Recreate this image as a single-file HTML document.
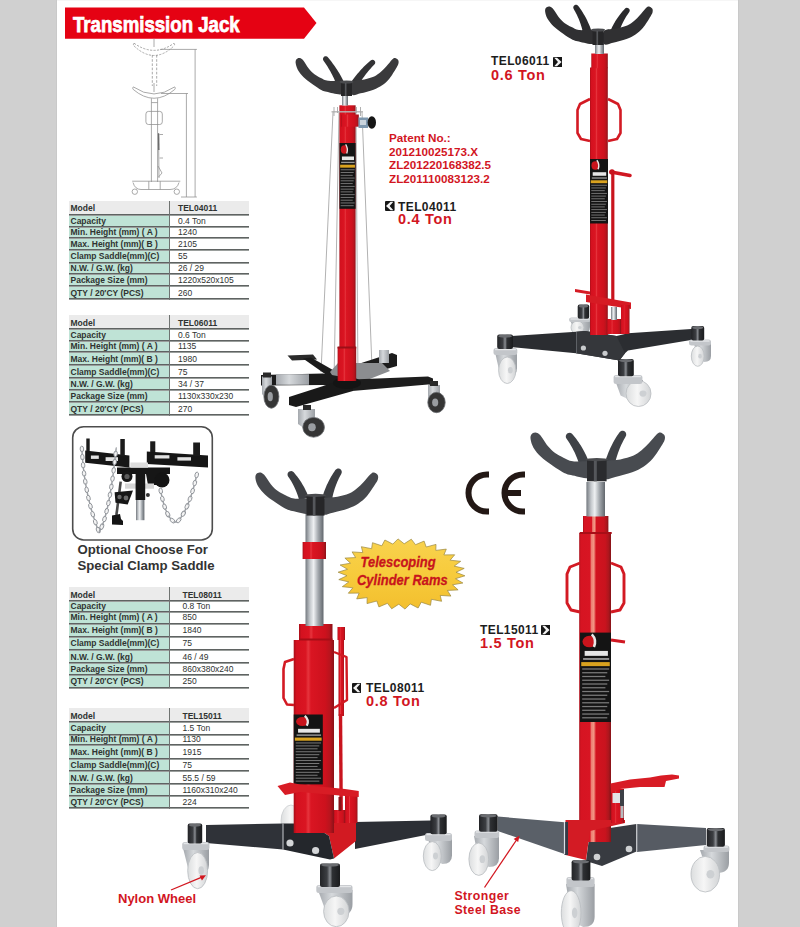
<!DOCTYPE html>
<html><head><meta charset="utf-8"><title>Transmission Jack</title>
<style>
*{margin:0;padding:0;box-sizing:border-box}
html,body{width:800px;height:927px;overflow:hidden}
body{position:relative;background:#d0d0d0;font-family:"Liberation Sans",sans-serif}
#page{position:absolute;left:57px;top:0;width:681px;height:927px;background:#fff}
.abs{position:absolute;white-space:nowrap}
.tbl{position:absolute;left:69px;width:180px}
.tbl .hd{position:absolute;left:0;width:180px;background:#ebebeb}
.tbl .lc{position:absolute;left:0;width:100px;background:#bfe3d6}
.tbl .ln{position:absolute;left:0;width:180px;height:1px;background:#5f6362;box-shadow:0 1px 0 #9a9e9c}
.tbl .vl{position:absolute;left:99.5px;width:1.4px;background:#6f7371}
.tbl .t{position:absolute;font-size:8.5px;line-height:10px;color:#2f3331;white-space:nowrap}
.tbl .b{font-weight:bold}
.lbl{position:absolute;font-weight:bold;white-space:nowrap}
.red{color:#d2161f}
</style></head><body>
<div id="page"></div>
<div class="abs" style="left:56px;top:0;width:1px;height:927px;background:#c9c9c9"></div>
<div class="abs" style="left:57px;top:0;width:681px;height:1px;background:#f6f6f6"></div>
<div class="abs" style="left:738px;top:0;width:1px;height:927px;background:#c9c9c9"></div>

<svg class="abs" style="left:0;top:0" width="800" height="927" viewBox="0 0 800 927">
<polygon points="65,7.5 304,7.5 316.5,23 304,38.7 65,38.7" fill="#e50213"/>
</svg>
<div class="abs" style="left:73px;top:10.6px;font-size:21.5px;font-weight:bold;color:#fff;-webkit-text-stroke:0.75px #fff;transform:scaleX(0.866);transform-origin:0 0;line-height:28px;letter-spacing:0px">Transmission Jack</div>
<svg class="abs" style="left:0;top:0" width="800" height="927" viewBox="0 0 800 927">
<defs>
<linearGradient id="gRed" x1="0" x2="1" y1="0" y2="0">
 <stop offset="0" stop-color="#a80e18"/><stop offset="0.07" stop-color="#d4111f"/>
 <stop offset="0.3" stop-color="#da1522"/><stop offset="0.36" stop-color="#e6343d"/><stop offset="0.43" stop-color="#da1522"/>
 <stop offset="0.78" stop-color="#cd111d"/><stop offset="0.9" stop-color="#b8141d"/><stop offset="1" stop-color="#8c1118"/>
</linearGradient>
<linearGradient id="gRed4" x1="0" x2="1" y1="0" y2="0">
 <stop offset="0" stop-color="#a80e18"/><stop offset="0.05" stop-color="#d61422"/>
 <stop offset="0.34" stop-color="#d81523"/><stop offset="0.38" stop-color="#ec7d72"/><stop offset="0.46" stop-color="#f29884"/><stop offset="0.5" stop-color="#e2494a"/><stop offset="0.53" stop-color="#d2131f"/>
 <stop offset="0.82" stop-color="#c9131e"/><stop offset="0.92" stop-color="#ae161d"/><stop offset="1" stop-color="#861318"/>
</linearGradient>
<linearGradient id="gChrome" x1="0" x2="1" y1="0" y2="0">
 <stop offset="0" stop-color="#74797f"/><stop offset="0.25" stop-color="#c4c8cc"/>
 <stop offset="0.45" stop-color="#eef0f2"/><stop offset="0.7" stop-color="#a4a9ae"/>
 <stop offset="1" stop-color="#62676d"/>
</linearGradient>
<linearGradient id="gCyl" x1="0" x2="1" y1="0" y2="0">
 <stop offset="0" stop-color="#222326"/><stop offset="0.35" stop-color="#3c3e42"/>
 <stop offset="0.5" stop-color="#8a8d92"/><stop offset="0.62" stop-color="#2e3033"/><stop offset="1" stop-color="#1a1b1d"/>
</linearGradient>
<linearGradient id="gWheel" x1="0" x2="1" y1="0" y2="0">
 <stop offset="0" stop-color="#dcdedf"/><stop offset="0.45" stop-color="#f6f6f6"/>
 <stop offset="1" stop-color="#d2d4d6"/>
</linearGradient>
<linearGradient id="gFork" x1="0" x2="1" y1="0" y2="0">
 <stop offset="0" stop-color="#a4a8ad"/><stop offset="0.4" stop-color="#d6d9dc"/>
 <stop offset="1" stop-color="#9a9ea3"/>
</linearGradient>
<linearGradient id="gStar" x1="0" x2="0" y1="0" y2="1">
 <stop offset="0" stop-color="#f8d24e"/><stop offset="0.5" stop-color="#f7cb3c"/><stop offset="1" stop-color="#f3bf2e"/>
</linearGradient>
</defs>
<g stroke="#8e8e8e" stroke-width="0.75" fill="none">
<path d="M134,43.2 Q154,57.5 174,43.2 M134,45.9 Q154,65 174,45.9 M134,43.2 Q132.8,44.6 134,45.9 M174,43.2 Q175.2,44.6 174,45.9" stroke-dasharray="2.2,1.3"/>
<path d="M154,38.5 L154,47"/>
<path d="M152.3,55 L152.3,86 M156.7,55 L156.7,86" stroke-dasharray="2.6,1.6"/>
<path d="M133.3,86.9 Q154,101 174.7,86.9 M133.3,89.5 Q154,107 174.7,89.5 M133.3,86.9 Q132,88.2 133.3,89.5 M174.7,86.9 Q176,88.2 174.7,89.5"/>
<path d="M154,83 L154,92"/>
<path d="M151.4,98.3 L151.4,182 M157.6,98.3 L157.6,182 M151.4,102.6 L157.6,102.6"/>
<rect x="145.9" y="111.4" width="16.4" height="13.1" rx="2.6"/>
<path d="M158.5,133 L159,178 M159.5,134.5 L163,134.5 M159.5,158 L163,158 M158,166 L162,173 L158.5,177"/>
<path d="M132.2,181.2 L180.3,181.2 M133,182.5 Q135,189.5 141,189.5 L170,189.5 Q177,189.5 179,182.5"/>
<path d="M148.8,181.2 L148.8,189.5 M160.2,181.2 L160.2,189.5"/>
<circle cx="134.8" cy="191.7" r="2.7"/><circle cx="176.8" cy="191.7" r="2.7"/>
<path d="M160.2,49.4 L196.9,49.4 M195.1,49.4 L195.1,197 M161,93.5 L188,93.5 M186.4,93.5 L186.4,197 M181,197 L196.9,197"/>
</g>
<path d="M158.6,133.5 L158.8,150" stroke="#6a6a6a" stroke-width="1.4"/>
<g stroke="#b2b2b2" stroke-width="1" fill="none">
<path d="M333,112 L321,372 M339,112 L334,381 M356,112 L358,381 M362,112 L372,368"/>
</g>
<polygon points="346.00,368.00 392.00,353.00 397.00,355.00 397.00,366.00 352.00,379.00" fill="#1c1c1c" />
<rect x="379.00" y="350.00" width="10.00" height="13.00" fill="url(#gFork)" />
<polygon points="287.50,355.50 313.00,354.50 317.00,359.50 292.00,360.50" fill="#2b2b2b" />
<polygon points="303.00,358.50 311.00,357.50 340.00,374.00 335.00,381.00" fill="#1b1b1b" />
<polygon points="330.00,372.00 338.00,363.00 382.00,363.00 390.00,371.00 362.00,382.00 336.00,381.00" fill="#8b8d90" />
<polygon points="261.00,375.00 323.00,373.50 343.00,377.00 343.00,388.00 323.00,385.00 261.00,385.50" fill="#1b1b1b" />
<rect x="276.00" y="374.20" width="33.00" height="10.60" fill="url(#gFork)" />
<polygon points="352.00,379.50 428.00,376.50 433.00,378.50 433.00,385.00 428.00,384.50 352.00,391.00" fill="#1d1d1d" />
<polygon points="289.00,397.00 345.00,379.00 353.00,385.00 353.00,391.00 296.00,407.00 289.00,405.00" fill="#191919" />
<ellipse cx="347" cy="383" rx="14" ry="6" fill="#141414"/>
<path d="M262,376.5 L272,376.5 L272,397 L267.0,400 L262,394 Z" fill="url(#gFork)"/>
<ellipse cx="271.4" cy="396.7" rx="7.5" ry="11.5" fill="#353535" stroke="#6a6c70" stroke-width="0.8"/>
<ellipse cx="270.27" cy="396.70" rx="2.62" ry="4.60" fill="#9a9da1"/>
<rect x="263.00" y="372.50" width="8.00" height="5.00" fill="#2a2a2a" />
<path d="M298,409 L315,409 L315,427 L306.5,430 L298,424 Z" fill="url(#gFork)"/>
<ellipse cx="313.6" cy="427.3" rx="10.8" ry="9.9" fill="#353535" stroke="#6a6c70" stroke-width="0.8"/>
<ellipse cx="311.98" cy="427.30" rx="3.78" ry="3.96" fill="#9a9da1"/>
<rect x="303.00" y="405.00" width="8.00" height="5.00" fill="#2a2a2a" />
<path d="M428,385 L440,385 L440,401 L434.0,404 L428,398 Z" fill="url(#gFork)"/>
<ellipse cx="436.5" cy="402.5" rx="8.7" ry="10.2" fill="#353535" stroke="#6a6c70" stroke-width="0.8"/>
<ellipse cx="435.19" cy="402.50" rx="3.04" ry="4.08" fill="#9a9da1"/>
<rect x="430.00" y="381.00" width="8.00" height="5.00" fill="#2a2a2a" />
<rect x="339.40" y="105.30" width="16.20" height="275.70" fill="url(#gRed)" />
<rect x="337.60" y="347.00" width="18.60" height="34.00" fill="url(#gRed)" />
<rect x="337.60" y="346.50" width="18.60" height="2.00" fill="#9c0f17" />
<rect x="341.00" y="114.50" width="17.80" height="12.20" fill="url(#gRed)" />
<path d="M331.5,111.8 L363,111.8" stroke="#b5b5b5" stroke-width="1.4"/>
<path d="M334,107 L334,116 M337.5,107 L337.5,113 M356.5,107 L356.5,113 M360.5,107 L360.5,116" stroke="#a8a8a8" stroke-width="0.9"/>
<rect x="358.50" y="117.50" width="9.50" height="10.50" fill="#7d97ae" />
<rect x="360.00" y="120.00" width="6.00" height="5.00" fill="#c9d3dc" />
<ellipse cx="371.8" cy="122.5" rx="4.2" ry="6.2" fill="#151515"/>
<rect x="339.50" y="143.00" width="16.10" height="65.80" fill="#141414" />
<ellipse cx="344.33" cy="149.58" rx="3.54" ry="4.28" fill="#c8141c"/>
<path d="M345.62,144.32 Q348.36,148.26 346.75,153.53" stroke="#e8e8e8" stroke-width="1.29" fill="none"/>
<rect x="341.92" y="156.49" width="12.07" height="3.62" fill="#e6e6e6" />
<rect x="341.11" y="161.75" width="13.52" height="1.32" fill="#9a9a9a" />
<rect x="340.14" y="164.71" width="14.81" height="2.96" fill="#d9a21f" />
<rect x="340.63" y="169.32" width="14.01" height="0.92" fill="#7a7a7a" />
<rect x="340.63" y="172.08" width="13.04" height="0.92" fill="#7a7a7a" />
<rect x="340.63" y="174.85" width="12.07" height="0.92" fill="#7a7a7a" />
<rect x="340.63" y="177.61" width="14.01" height="0.92" fill="#7a7a7a" />
<rect x="340.63" y="180.37" width="13.04" height="0.92" fill="#7a7a7a" />
<rect x="340.63" y="183.14" width="12.07" height="0.92" fill="#7a7a7a" />
<rect x="340.63" y="185.90" width="14.01" height="0.92" fill="#7a7a7a" />
<rect x="340.63" y="188.67" width="13.04" height="0.92" fill="#7a7a7a" />
<rect x="340.63" y="191.43" width="12.07" height="0.92" fill="#7a7a7a" />
<rect x="340.63" y="194.19" width="14.01" height="0.92" fill="#7a7a7a" />
<rect x="340.63" y="196.96" width="13.04" height="0.92" fill="#7a7a7a" />
<rect x="340.63" y="199.72" width="12.07" height="0.92" fill="#7a7a7a" />
<rect x="340.63" y="202.48" width="14.01" height="0.92" fill="#7a7a7a" />
<rect x="340.63" y="205.25" width="13.04" height="0.92" fill="#7a7a7a" />
<rect x="342.00" y="93.00" width="6.00" height="12.50" fill="url(#gChrome)" />
<path d="M337.32,86.56 L336.66,84.84 L335.98,83.14 L335.26,81.45 L334.53,79.78 L333.76,78.11 L332.97,76.46 L332.15,74.83 L331.30,73.20 L330.43,71.59 L329.53,70.00 L328.60,68.41 L327.64,66.84 L326.66,65.29 L325.64,63.74 L324.60,62.21 L323.53,60.69 L323.05,59.74 L322.97,58.67 L323.31,57.65 L324.01,56.83 L324.96,56.35 L326.03,56.27 L327.05,56.61 L327.87,57.31 L329.11,58.80 L330.34,60.31 L331.53,61.85 L332.70,63.40 L333.85,64.96 L334.96,66.55 L336.06,68.16 L337.12,69.78 L338.16,71.42 L339.17,73.09 L340.16,74.77 L341.12,76.46 L342.05,78.18 L342.95,79.92 L343.83,81.67 L344.68,83.44Z" fill="#333335"/>
<path d="M350.59,82.90 L351.67,81.33 L352.77,79.79 L353.90,78.26 L355.04,76.76 L356.22,75.28 L357.41,73.82 L358.63,72.38 L359.87,70.97 L361.14,69.58 L362.42,68.21 L363.73,66.87 L365.07,65.55 L366.43,64.25 L367.81,62.97 L369.21,61.71 L370.63,60.48 L371.55,59.92 L372.61,59.75 L373.65,60.00 L374.52,60.63 L375.08,61.55 L375.25,62.61 L375.00,63.65 L374.37,64.52 L373.12,65.80 L371.89,67.10 L370.70,68.42 L369.52,69.75 L368.38,71.10 L367.25,72.47 L366.16,73.86 L365.08,75.26 L364.04,76.68 L363.02,78.11 L362.02,79.57 L361.05,81.04 L360.10,82.53 L359.18,84.03 L358.28,85.56 L357.41,87.10Z" fill="#333335"/>
<path d="M342.41,81.84 C340.02,79.65 331.64,81.52 328.05,80.87 C324.46,80.22 323.14,79.05 320.87,77.95 C318.61,76.84 316.49,75.84 314.46,74.25 C312.43,72.66 310.63,70.79 308.72,68.41 C306.80,66.02 304.54,61.69 302.97,59.93 C301.41,58.18 300.45,57.97 299.34,57.89 C298.22,57.81 296.88,58.54 296.27,59.45 C295.67,60.36 295.43,61.59 295.70,63.34 C295.97,65.09 296.58,67.64 297.90,69.96 C299.23,72.28 301.49,75.08 303.64,77.27 C305.80,79.46 308.19,81.16 310.82,83.11 C313.46,85.06 316.81,87.49 319.44,88.95 C322.07,90.41 322.79,91.03 326.62,91.87 C330.45,92.71 339.78,95.68 342.41,94.01 C345.04,92.34 344.80,84.03 342.41,81.84Z" fill="#3a3a3c"/>
<path d="M351.98,81.84 C354.06,79.33 360.72,80.30 364.42,79.41 C368.13,78.52 371.48,77.70 374.19,76.49 C376.90,75.27 378.65,73.81 380.70,72.11 C382.74,70.40 384.53,68.37 386.44,66.26 C388.35,64.15 390.75,60.84 392.18,59.45 C393.62,58.05 394.07,57.81 395.05,57.89 C396.04,57.97 397.54,59.03 398.12,59.93 C398.69,60.84 398.77,62.04 398.50,63.34 C398.23,64.64 398.02,65.16 396.49,67.72 C394.96,70.29 391.70,75.81 389.31,78.73 C386.92,81.65 384.76,83.43 382.13,85.25 C379.50,87.07 377.11,88.28 373.52,89.63 C369.93,90.98 364.19,92.52 360.60,93.33 C357.01,94.14 353.42,96.41 351.98,94.50 C350.55,92.59 349.91,84.36 351.98,81.84Z" fill="#3a3a3c"/>
<rect x="341.00" y="82.00" width="11.00" height="14.00" fill="#262628" />
<ellipse cx="346.50" cy="82.00" rx="7.00" ry="1.6" fill="#4a4b4e"/>
<rect x="344.85" y="83.00" width="1.65" height="13.00" fill="#55575b" />
<path d="M570.00,320.00 L590.00,320.00 L590.00,327.00 Q590.00,334.00 582.00,334.00 L574.00,330.00 Z" fill="url(#gFork)"/>
<ellipse cx="577.50" cy="327.50" rx="6.50" ry="6.50" fill="url(#gWheel)" stroke="#b9bcc0" stroke-width="0.8"/>
<ellipse cx="579.84" cy="327.50" rx="1.82" ry="1.56" fill="#cdd0d3"/>
<rect x="569.00" y="317.50" width="22.00" height="4.50" rx="2.5" fill="#c3c6ca"/>
<rect x="570.50" y="318.30" width="19.00" height="1.40" fill="#e4e6e8" />
<rect x="577.70" y="304.40" width="11.50" height="14.40" rx="2" fill="url(#gCyl)"/>
<ellipse cx="583.45" cy="306.00" rx="4.75" ry="1.6" fill="#6b6d71"/>
<polygon points="505.00,336.50 576.30,331.80 585.00,331.00 616.50,336.00 628.00,333.20 691.30,328.90 697.00,330.00 697.00,339.00 628.00,350.40 625.00,353.30 619.40,360.50 576.00,353.30 505.00,346.50" fill="#2b2d31" />
<polygon points="576.30,331.80 585.00,331.00 616.50,336.00 625.00,353.30 619.40,360.50 576.00,353.30" fill="#35373b" />
<line x1="576.5" y1="332" x2="576.5" y2="353" stroke="#6a6d72" stroke-width="0.8"/>
<circle cx="583.4" cy="348" r="2.6" fill="#c9cbcd"/><circle cx="605" cy="353.3" r="2.6" fill="#c9cbcd"/>
<path d="M495.00,352.00 L517.00,352.00 L517.00,368.30 Q517.00,376.00 508.20,376.00 L499.40,371.60 Z" fill="url(#gFork)"/>
<ellipse cx="507.25" cy="370.25" rx="8.65" ry="13.25" fill="url(#gWheel)" stroke="#b9bcc0" stroke-width="0.8"/>
<ellipse cx="510.36" cy="370.25" rx="2.42" ry="3.18" fill="#cdd0d3"/>
<rect x="493.50" y="348.00" width="23.80" height="7.00" rx="2.5" fill="#c3c6ca"/>
<rect x="495.00" y="348.80" width="20.80" height="1.40" fill="#e4e6e8" />
<rect x="497.20" y="334.60" width="15.80" height="14.40" rx="2" fill="url(#gCyl)"/>
<ellipse cx="505.10" cy="336.20" rx="6.90" ry="1.6" fill="#6b6d71"/>
<path d="M694.00,343.00 L711.00,343.00 L711.00,356.05 Q711.00,362.00 704.20,362.00 L697.40,358.60 Z" fill="url(#gFork)"/>
<ellipse cx="697.75" cy="356.15" rx="6.45" ry="10.15" fill="url(#gWheel)" stroke="#b9bcc0" stroke-width="0.8"/>
<ellipse cx="700.07" cy="356.15" rx="1.81" ry="2.44" fill="#cdd0d3"/>
<rect x="689.00" y="339.50" width="22.00" height="6.00" rx="2.5" fill="#c3c6ca"/>
<rect x="690.50" y="340.30" width="19.00" height="1.40" fill="#e4e6e8" />
<rect x="691.30" y="326.00" width="12.90" height="14.40" rx="2" fill="url(#gCyl)"/>
<ellipse cx="697.75" cy="327.60" rx="5.45" ry="1.6" fill="#6b6d71"/>
<path d="M615.00,380.00 L643.00,380.00 L643.00,391.20 Q643.00,401.00 631.80,401.00 L620.60,395.40 Z" fill="url(#gFork)"/>
<ellipse cx="638.50" cy="393.55" rx="12.50" ry="12.95" fill="url(#gWheel)" stroke="#b9bcc0" stroke-width="0.8"/>
<ellipse cx="643.00" cy="393.55" rx="3.50" ry="3.11" fill="#cdd0d3"/>
<rect x="613.60" y="375.00" width="28.80" height="9.00" rx="2.5" fill="#c3c6ca"/>
<rect x="615.10" y="375.80" width="25.80" height="1.40" fill="#e4e6e8" />
<rect x="618.00" y="359.00" width="15.80" height="17.30" rx="2" fill="url(#gCyl)"/>
<ellipse cx="625.90" cy="360.60" rx="6.90" ry="1.6" fill="#6b6d71"/>
<rect x="590.00" y="67.50" width="17.80" height="267.50" fill="url(#gRed)" />
<rect x="591.30" y="53.50" width="16.50" height="14.70" fill="url(#gRed)" />
<path d="M590,99 L580,104 L577.5,110 L577.5,133 L581,139 L590,141 M608,99 L618,104 L620.5,110 L620.5,133 L617,139 L608,141" stroke="#d31a23" stroke-width="2.6" fill="none" stroke-linejoin="round"/>
<rect x="590.00" y="159.00" width="18.00" height="64.50" fill="#141414" />
<ellipse cx="595.40" cy="165.45" rx="3.96" ry="4.19" fill="#c8141c"/>
<path d="M596.84,160.29 Q599.90,164.16 598.10,169.32" stroke="#e8e8e8" stroke-width="1.44" fill="none"/>
<rect x="592.70" y="172.22" width="13.50" height="3.55" fill="#e6e6e6" />
<rect x="591.80" y="177.38" width="15.12" height="1.29" fill="#9a9a9a" />
<rect x="590.72" y="180.28" width="16.56" height="2.90" fill="#d9a21f" />
<rect x="591.26" y="184.80" width="15.66" height="0.90" fill="#7a7a7a" />
<rect x="591.26" y="187.51" width="14.58" height="0.90" fill="#7a7a7a" />
<rect x="591.26" y="190.22" width="13.50" height="0.90" fill="#7a7a7a" />
<rect x="591.26" y="192.93" width="15.66" height="0.90" fill="#7a7a7a" />
<rect x="591.26" y="195.64" width="14.58" height="0.90" fill="#7a7a7a" />
<rect x="591.26" y="198.35" width="13.50" height="0.90" fill="#7a7a7a" />
<rect x="591.26" y="201.05" width="15.66" height="0.90" fill="#7a7a7a" />
<rect x="591.26" y="203.76" width="14.58" height="0.90" fill="#7a7a7a" />
<rect x="591.26" y="206.47" width="13.50" height="0.90" fill="#7a7a7a" />
<rect x="591.26" y="209.18" width="15.66" height="0.90" fill="#7a7a7a" />
<rect x="591.26" y="211.89" width="14.58" height="0.90" fill="#7a7a7a" />
<rect x="591.26" y="214.60" width="13.50" height="0.90" fill="#7a7a7a" />
<rect x="591.26" y="217.31" width="15.66" height="0.90" fill="#7a7a7a" />
<rect x="591.26" y="220.02" width="14.58" height="0.90" fill="#7a7a7a" />
<path d="M612.8,172 L612.8,306" stroke="#c9141e" stroke-width="3.2"/>
<path d="M611,172 L630,175.5" stroke="#d01822" stroke-width="3.6" stroke-linecap="round"/>
<circle cx="612" cy="172" r="2.7" fill="#c8141d"/>
<polygon points="575.00,289.00 590.00,291.50 590.00,294.50 575.00,292.00" fill="#d51b24" />
<polygon points="586.00,294.50 631.00,302.50 631.00,309.00 586.00,302.00" fill="#d61b24" />
<rect x="621.00" y="305.00" width="8.50" height="29.00" fill="url(#gRed)" />
<rect x="607.00" y="319.00" width="14.00" height="15.00" fill="url(#gRed)" />
<rect x="611.00" y="307.00" width="6.00" height="13.00" fill="url(#gChrome)" />
<rect x="595.00" y="40.00" width="9.00" height="14.00" fill="url(#gChrome)" />
<path d="M582.92,32.19 L582.56,30.67 L582.17,29.17 L581.75,27.67 L581.30,26.18 L580.83,24.69 L580.33,23.22 L579.80,21.76 L579.24,20.31 L578.65,18.87 L578.03,17.43 L577.38,16.01 L576.71,14.60 L576.00,13.19 L575.27,11.79 L574.51,10.41 L573.72,9.03 L573.30,8.04 L573.30,6.97 L573.71,5.98 L574.47,5.22 L575.46,4.80 L576.53,4.80 L577.52,5.21 L578.28,5.97 L579.29,7.33 L580.27,8.71 L581.22,10.11 L582.15,11.52 L583.05,12.95 L583.92,14.40 L584.76,15.86 L585.58,17.34 L586.36,18.84 L587.12,20.36 L587.85,21.89 L588.55,23.44 L589.23,25.01 L589.87,26.59 L590.49,28.19 L591.08,29.81Z" fill="#2a2a2c"/>
<path d="M611.03,29.49 L611.69,28.05 L612.39,26.62 L613.11,25.21 L613.86,23.83 L614.63,22.46 L615.43,21.11 L616.26,19.78 L617.12,18.48 L618.00,17.19 L618.91,15.92 L619.84,14.67 L620.80,13.45 L621.78,12.24 L622.79,11.05 L623.83,9.88 L624.89,8.74 L625.73,8.06 L626.76,7.76 L627.82,7.88 L628.76,8.39 L629.44,9.23 L629.74,10.26 L629.62,11.32 L629.11,12.26 L628.27,13.44 L627.45,14.63 L626.67,15.83 L625.91,17.05 L625.18,18.27 L624.48,19.51 L623.80,20.75 L623.16,22.01 L622.54,23.28 L621.95,24.57 L621.39,25.86 L620.85,27.17 L620.34,28.48 L619.86,29.81 L619.40,31.15 L618.97,32.51Z" fill="#2a2a2c"/>
<path d="M594.00,31.00 C591.50,28.75 582.75,30.67 579.00,30.00 C575.25,29.33 573.87,28.13 571.50,27.00 C569.13,25.87 566.92,24.83 564.80,23.20 C562.68,21.57 560.80,19.65 558.80,17.20 C556.80,14.75 554.43,10.30 552.80,8.50 C551.17,6.70 550.17,6.48 549.00,6.40 C547.83,6.32 546.43,7.07 545.80,8.00 C545.17,8.93 544.92,10.20 545.20,12.00 C545.48,13.80 546.12,16.42 547.50,18.80 C548.88,21.18 551.25,24.05 553.50,26.30 C555.75,28.55 558.25,30.30 561.00,32.30 C563.75,34.30 567.25,36.80 570.00,38.30 C572.75,39.80 573.50,40.43 577.50,41.30 C581.50,42.17 591.25,45.22 594.00,43.50 C596.75,41.78 596.50,33.25 594.00,31.00Z" fill="#303032"/>
<path d="M604.00,31.00 C606.17,28.42 613.13,29.42 617.00,28.50 C620.87,27.58 624.37,26.75 627.20,25.50 C630.03,24.25 631.87,22.75 634.00,21.00 C636.13,19.25 638.00,17.17 640.00,15.00 C642.00,12.83 644.50,9.43 646.00,8.00 C647.50,6.57 647.97,6.32 649.00,6.40 C650.03,6.48 651.60,7.57 652.20,8.50 C652.80,9.43 652.88,10.67 652.60,12.00 C652.32,13.33 652.10,13.87 650.50,16.50 C648.90,19.13 645.50,24.80 643.00,27.80 C640.50,30.80 638.25,32.63 635.50,34.50 C632.75,36.37 630.25,37.62 626.50,39.00 C622.75,40.38 616.75,41.97 613.00,42.80 C609.25,43.63 605.50,45.97 604.00,44.00 C602.50,42.03 601.83,33.58 604.00,31.00Z" fill="#303032"/>
<rect x="592.50" y="30.00" width="11.20" height="15.00" fill="#262628" />
<ellipse cx="598.10" cy="30.00" rx="7.10" ry="1.6" fill="#4a4b4e"/>
<rect x="596.42" y="31.00" width="1.68" height="14.00" fill="#55575b" />
<ellipse cx="291" cy="821" rx="10" ry="16" fill="url(#gWheel)" stroke="#c6c9cc" stroke-width="0.7"/>
<polygon points="206.00,825.00 283.00,823.50 283.00,849.50 206.00,843.00" fill="#2f3238" />
<polygon points="355.00,822.00 431.00,820.50 431.00,834.00 355.00,849.00" fill="#2c2f35" />
<polygon points="298.00,812.00 356.00,812.00 356.00,841.00 334.00,858.50 329.00,836.00 310.00,823.50 298.00,823.50" fill="#d21a22" />
<polygon points="283.00,823.50 310.00,823.50 329.00,836.00 334.00,858.50 330.00,859.50 283.00,849.50" fill="#24272c" />
<line x1="283" y1="823.5" x2="283" y2="849.5" stroke="#c9ccd0" stroke-width="1"/>
<circle cx="290" cy="843" r="3.6" fill="#d4d6d8"/><circle cx="315.6" cy="850.5" r="3.6" fill="#d4d6d8"/>
<path d="M183.00,848.00 L209.00,848.00 L209.00,864.90 Q209.00,874.00 198.60,874.00 L188.20,868.80 Z" fill="url(#gFork)"/>
<ellipse cx="197.65" cy="870.60" rx="9.95" ry="18.10" fill="url(#gWheel)" stroke="#b9bcc0" stroke-width="0.8"/>
<ellipse cx="201.23" cy="870.60" rx="2.79" ry="4.34" fill="#cdd0d3"/>
<rect x="182.20" y="842.00" width="27.20" height="8.00" rx="2.5" fill="#c3c6ca"/>
<rect x="183.70" y="842.80" width="24.20" height="1.40" fill="#e4e6e8" />
<rect x="187.70" y="823.50" width="14.50" height="19.90" rx="2" fill="url(#gCyl)"/>
<ellipse cx="194.95" cy="825.10" rx="6.25" ry="1.6" fill="#6b6d71"/>
<path d="M428.00,838.00 L452.00,838.00 L452.00,855.60 Q452.00,864.00 442.40,864.00 L432.80,859.20 Z" fill="url(#gFork)"/>
<ellipse cx="432.30" cy="856.10" rx="9.00" ry="14.50" fill="url(#gWheel)" stroke="#b9bcc0" stroke-width="0.8"/>
<ellipse cx="435.54" cy="856.10" rx="2.52" ry="3.48" fill="#cdd0d3"/>
<rect x="425.00" y="833.00" width="27.00" height="8.00" rx="2.5" fill="#c3c6ca"/>
<rect x="426.50" y="833.80" width="24.00" height="1.40" fill="#e4e6e8" />
<rect x="430.40" y="814.40" width="16.30" height="19.90" rx="2" fill="url(#gCyl)"/>
<ellipse cx="438.55" cy="816.00" rx="7.15" ry="1.6" fill="#6b6d71"/>
<path d="M318.00,890.00 L352.50,890.00 L352.50,903.92 Q352.50,916.00 338.70,916.00 L324.90,909.10 Z" fill="url(#gFork)"/>
<ellipse cx="336.30" cy="911.35" rx="12.70" ry="15.35" fill="url(#gWheel)" stroke="#b9bcc0" stroke-width="0.8"/>
<ellipse cx="340.87" cy="911.35" rx="3.56" ry="3.68" fill="#cdd0d3"/>
<rect x="316.30" y="885.00" width="36.20" height="8.00" rx="2.5" fill="#c3c6ca"/>
<rect x="317.80" y="885.80" width="33.20" height="1.40" fill="#e4e6e8" />
<rect x="320.00" y="863.40" width="20.00" height="23.60" rx="2" fill="url(#gCyl)"/>
<ellipse cx="330.00" cy="865.00" rx="9.00" ry="1.6" fill="#6b6d71"/>
<rect x="293.70" y="640.00" width="40.30" height="193.00" fill="url(#gRed)" />
<rect x="299.00" y="624.00" width="33.50" height="16.00" fill="url(#gRed)" />
<rect x="299.00" y="638.50" width="33.50" height="2.00" fill="#a50e17" />
<rect x="337.50" y="627.00" width="7.50" height="13.00" fill="url(#gRed)" />
<rect x="338.50" y="640.00" width="5.50" height="76.00" fill="url(#gRed)" />
<path d="M334,652 L346.5,657 L347,700 L334,708" stroke="#d21a22" stroke-width="2.4" fill="none" stroke-linejoin="round"/>
<path d="M340.5,714 L341.2,812" stroke="#c9141e" stroke-width="3.4"/>
<path d="M294,659 L285,662 L283.5,669 L283.5,698 L287,704.5 L294,705" stroke="#d31a23" stroke-width="2.6" fill="none" stroke-linejoin="round"/>
<rect x="293.70" y="714.50" width="29.10" height="69.90" fill="#141414" />
<ellipse cx="302.43" cy="721.49" rx="6.40" ry="4.54" fill="#c8141c"/>
<path d="M304.76,715.90 Q309.70,720.09 306.80,725.68" stroke="#e8e8e8" stroke-width="2.33" fill="none"/>
<rect x="298.06" y="728.83" width="21.82" height="3.84" fill="#e6e6e6" />
<rect x="296.61" y="734.42" width="24.44" height="1.40" fill="#9a9a9a" />
<rect x="294.86" y="737.57" width="26.77" height="3.15" fill="#d9a21f" />
<rect x="295.74" y="742.46" width="25.32" height="0.98" fill="#7a7a7a" />
<rect x="295.74" y="745.40" width="23.57" height="0.98" fill="#7a7a7a" />
<rect x="295.74" y="748.33" width="21.83" height="0.98" fill="#7a7a7a" />
<rect x="295.74" y="751.27" width="25.32" height="0.98" fill="#7a7a7a" />
<rect x="295.74" y="754.20" width="23.57" height="0.98" fill="#7a7a7a" />
<rect x="295.74" y="757.14" width="21.83" height="0.98" fill="#7a7a7a" />
<rect x="295.74" y="760.07" width="25.32" height="0.98" fill="#7a7a7a" />
<rect x="295.74" y="763.01" width="23.57" height="0.98" fill="#7a7a7a" />
<rect x="295.74" y="765.95" width="21.83" height="0.98" fill="#7a7a7a" />
<rect x="295.74" y="768.88" width="25.32" height="0.98" fill="#7a7a7a" />
<rect x="295.74" y="771.82" width="23.57" height="0.98" fill="#7a7a7a" />
<rect x="295.74" y="774.75" width="21.83" height="0.98" fill="#7a7a7a" />
<rect x="295.74" y="777.69" width="25.32" height="0.98" fill="#7a7a7a" />
<rect x="295.74" y="780.63" width="23.57" height="0.98" fill="#7a7a7a" />
<rect x="345.00" y="792.00" width="12.50" height="31.00" fill="url(#gRed)" />
<rect x="334.00" y="810.00" width="11.00" height="13.00" fill="url(#gRed)" />
<rect x="338.50" y="797.00" width="3.00" height="14.00" fill="#8a1016" />
<polygon points="277.50,786.00 290.00,782.50 300.00,784.50 345.00,789.00 358.75,791.00 358.75,797.00 345.00,796.00 300.00,792.00 285.00,795.00" fill="#d81c25" />
<rect x="305.50" y="513.00" width="18.00" height="113.00" fill="url(#gChrome)" />
<rect x="302.60" y="542.00" width="23.40" height="17.00" fill="url(#gRed)" />
<path d="M299.24,500.52 L298.81,498.93 L298.34,497.35 L297.85,495.78 L297.31,494.23 L296.75,492.69 L296.15,491.16 L295.52,489.65 L294.85,488.16 L294.15,486.67 L293.41,485.20 L292.64,483.75 L291.83,482.30 L290.99,480.87 L290.11,479.46 L289.20,478.05 L288.25,476.66 L287.63,475.45 L287.52,474.08 L287.95,472.79 L288.84,471.75 L290.05,471.13 L291.42,471.02 L292.71,471.45 L293.75,472.34 L294.94,473.74 L296.10,475.16 L297.23,476.60 L298.32,478.07 L299.38,479.56 L300.41,481.07 L301.40,482.61 L302.36,484.17 L303.28,485.76 L304.17,487.36 L305.02,488.99 L305.84,490.64 L306.63,492.32 L307.37,494.02 L308.09,495.74 L308.76,497.48Z" fill="#3c3e42"/>
<path d="M322.13,497.87 L322.68,496.00 L323.27,494.14 L323.89,492.29 L324.56,490.47 L325.26,488.67 L325.99,486.89 L326.77,485.12 L327.58,483.38 L328.42,481.65 L329.30,479.95 L330.22,478.26 L331.18,476.59 L332.17,474.95 L333.19,473.32 L334.25,471.71 L335.34,470.12 L336.29,469.14 L337.54,468.58 L338.90,468.55 L340.18,469.04 L341.16,469.99 L341.72,471.24 L341.75,472.60 L341.26,473.88 L340.40,475.44 L339.58,477.01 L338.79,478.59 L338.04,480.18 L337.33,481.79 L336.66,483.40 L336.02,485.02 L335.42,486.66 L334.85,488.30 L334.32,489.96 L333.82,491.63 L333.36,493.30 L332.94,494.99 L332.55,496.69 L332.19,498.40 L331.87,500.13Z" fill="#3c3e42"/>
<path d="M311.16,499.63 C308.31,497.14 298.33,499.26 294.05,498.53 C289.77,497.79 288.20,496.46 285.50,495.21 C282.80,493.96 280.27,492.82 277.86,491.01 C275.44,489.21 273.29,487.09 271.01,484.38 C268.73,481.67 266.03,476.75 264.17,474.76 C262.31,472.77 261.16,472.53 259.83,472.44 C258.50,472.35 256.91,473.18 256.18,474.21 C255.46,475.24 255.18,476.64 255.50,478.63 C255.82,480.62 256.55,483.51 258.12,486.15 C259.70,488.78 262.40,491.95 264.97,494.44 C267.53,496.92 270.38,498.86 273.52,501.07 C276.66,503.28 280.65,506.04 283.79,507.70 C286.92,509.36 287.78,510.06 292.34,511.02 C296.90,511.97 308.02,515.34 311.16,513.45 C314.30,511.55 314.01,502.12 311.16,499.63Z" fill="#46484c"/>
<path d="M322.57,499.63 C325.04,496.78 332.98,497.88 337.39,496.87 C341.81,495.86 345.80,494.93 349.03,493.55 C352.26,492.17 354.35,490.51 356.78,488.58 C359.22,486.64 361.35,484.34 363.63,481.95 C365.91,479.55 368.76,475.79 370.47,474.21 C372.18,472.63 372.72,472.35 373.89,472.44 C375.07,472.53 376.86,473.73 377.54,474.76 C378.23,475.79 378.32,477.16 378.00,478.63 C377.68,480.11 377.43,480.69 375.60,483.61 C373.78,486.52 369.90,492.78 367.05,496.09 C364.20,499.41 361.63,501.44 358.50,503.50 C355.36,505.56 352.51,506.94 348.23,508.47 C343.95,510.00 337.11,511.75 332.83,512.67 C328.56,513.59 324.28,516.17 322.57,514.00 C320.86,511.83 320.10,502.49 322.57,499.63Z" fill="#46484c"/>
<rect x="306.50" y="495.40" width="18.00" height="20.20" fill="#262628" />
<ellipse cx="315.50" cy="495.40" rx="10.50" ry="1.6" fill="#4a4b4e"/>
<rect x="312.80" y="496.40" width="2.70" height="19.20" fill="#55575b" />
<polygon points="497.60,816.50 564.50,822.20 564.50,854.00 497.60,831.00" fill="#5a6068" />
<polygon points="637.00,824.00 706.00,828.00 706.00,845.00 637.00,852.00" fill="#565b63" />
<polygon points="590.00,831.00 636.50,824.00 636.50,851.50 602.00,866.00 586.00,861.00" fill="#383b41" />
<line x1="636.8" y1="824" x2="636.8" y2="851.5" stroke="#d0d3d8" stroke-width="1"/>
<circle cx="597" cy="857" r="3.3" fill="#cfd1d3"/><circle cx="629" cy="849" r="3.3" fill="#cfd1d3"/>
<path d="M474.00,836.00 L499.00,836.00 L499.00,858.25 Q499.00,867.00 489.00,867.00 L479.00,862.00 Z" fill="url(#gFork)"/>
<ellipse cx="478.80" cy="859.20" rx="9.90" ry="16.20" fill="url(#gWheel)" stroke="#b9bcc0" stroke-width="0.8"/>
<ellipse cx="482.36" cy="859.20" rx="2.77" ry="3.89" fill="#cdd0d3"/>
<rect x="474.50" y="830.50" width="24.70" height="7.50" rx="2.5" fill="#c3c6ca"/>
<rect x="476.00" y="831.30" width="21.70" height="1.40" fill="#e4e6e8" />
<rect x="479.00" y="814.30" width="18.60" height="17.40" rx="2" fill="url(#gCyl)"/>
<ellipse cx="488.30" cy="815.90" rx="8.30" ry="1.6" fill="#6b6d71"/>
<path d="M700.00,850.00 L729.00,850.00 L729.00,862.85 Q729.00,873.00 717.40,873.00 L705.80,867.20 Z" fill="url(#gFork)"/>
<ellipse cx="705.30" cy="874.20" rx="14.30" ry="17.80" fill="url(#gWheel)" stroke="#b9bcc0" stroke-width="0.8"/>
<ellipse cx="710.45" cy="874.20" rx="4.00" ry="4.27" fill="#cdd0d3"/>
<rect x="703.50" y="845.50" width="25.90" height="6.50" rx="2.5" fill="#c3c6ca"/>
<rect x="705.00" y="846.30" width="22.90" height="1.40" fill="#e4e6e8" />
<rect x="706.70" y="828.00" width="18.20" height="18.70" rx="2" fill="url(#gCyl)"/>
<ellipse cx="715.80" cy="829.60" rx="8.10" ry="1.6" fill="#6b6d71"/>
<path d="M566.00,884.00 L594.60,884.00 L594.60,916.99 Q594.60,927.00 583.16,927.00 L571.72,921.28 Z" fill="url(#gFork)"/>
<ellipse cx="571.15" cy="912.85" rx="9.85" ry="22.15" fill="url(#gWheel)" stroke="#b9bcc0" stroke-width="0.8"/>
<ellipse cx="574.70" cy="912.85" rx="2.76" ry="5.32" fill="#cdd0d3"/>
<rect x="566.40" y="877.00" width="28.20" height="10.00" rx="2.5" fill="#c3c6ca"/>
<rect x="567.90" y="877.80" width="25.20" height="1.40" fill="#e4e6e8" />
<rect x="571.60" y="860.20" width="18.80" height="20.20" rx="2" fill="url(#gCyl)"/>
<ellipse cx="581.00" cy="861.80" rx="8.40" ry="1.6" fill="#6b6d71"/>
<rect x="579.20" y="533.00" width="31.80" height="309.00" fill="url(#gRed4)" />
<polygon points="565.50,820.00 625.00,820.00 625.00,823.00 590.00,831.00 586.00,860.00 565.50,855.00" fill="#d31b24" />
<rect x="564.50" y="822.00" width="3.50" height="33.00" fill="#343a45" />
<line x1="564.5" y1="822" x2="564.5" y2="854" stroke="#dde0e6" stroke-width="1.2"/>
<rect x="583.00" y="516.00" width="25.40" height="17.00" fill="url(#gRed4)" />
<rect x="579.70" y="532.00" width="32.00" height="2.00" fill="#a80e17" />
<path d="M580,563 L570,567 L567,574 L567,603 L571,610 L580,612 M611,563 L621,567 L624,574 L624,603 L620,610 L611,612" stroke="#d31a23" stroke-width="2.9" fill="none" stroke-linejoin="round"/>
<rect x="580.00" y="632.60" width="31.00" height="89.40" fill="#141414" />
<ellipse cx="589.30" cy="641.54" rx="6.82" ry="5.81" fill="#c8141c"/>
<path d="M591.78,634.39 Q597.05,639.75 593.95,646.90" stroke="#e8e8e8" stroke-width="2.48" fill="none"/>
<rect x="584.65" y="650.93" width="23.25" height="4.92" fill="#e6e6e6" />
<rect x="583.10" y="658.08" width="26.04" height="1.79" fill="#9a9a9a" />
<rect x="581.24" y="662.10" width="28.52" height="4.02" fill="#d9a21f" />
<rect x="582.17" y="668.36" width="26.97" height="1.25" fill="#7a7a7a" />
<rect x="582.17" y="672.11" width="25.11" height="1.25" fill="#7a7a7a" />
<rect x="582.17" y="675.87" width="23.25" height="1.25" fill="#7a7a7a" />
<rect x="582.17" y="679.62" width="26.97" height="1.25" fill="#7a7a7a" />
<rect x="582.17" y="683.38" width="25.11" height="1.25" fill="#7a7a7a" />
<rect x="582.17" y="687.13" width="23.25" height="1.25" fill="#7a7a7a" />
<rect x="582.17" y="690.89" width="26.97" height="1.25" fill="#7a7a7a" />
<rect x="582.17" y="694.64" width="25.11" height="1.25" fill="#7a7a7a" />
<rect x="582.17" y="698.40" width="23.25" height="1.25" fill="#7a7a7a" />
<rect x="582.17" y="702.15" width="26.97" height="1.25" fill="#7a7a7a" />
<rect x="582.17" y="705.91" width="25.11" height="1.25" fill="#7a7a7a" />
<rect x="582.17" y="709.66" width="23.25" height="1.25" fill="#7a7a7a" />
<rect x="582.17" y="713.42" width="26.97" height="1.25" fill="#7a7a7a" />
<rect x="582.17" y="717.17" width="25.11" height="1.25" fill="#7a7a7a" />
<path d="M611,640 L625,642" stroke="#d01822" stroke-width="3.2"/>
<rect x="611.00" y="789.00" width="13.00" height="34.00" fill="url(#gRed)" />
<rect x="612.50" y="793.00" width="7.50" height="10.00" fill="#e2e4e6" />
<rect x="620.00" y="790.00" width="4.00" height="16.00" fill="#3d4046" />
<rect x="620.50" y="806.00" width="3.00" height="12.00" fill="#b7babd" />
<polygon points="610.50,783.50 630.00,779.50 650.00,777.50 661.00,775.50 672.00,774.50 679.00,775.50 679.00,778.50 666.00,781.00 664.50,787.00 640.00,787.00 620.00,789.00 611.00,793.00" fill="#d81c25" />
<rect x="586.40" y="482.00" width="18.60" height="34.50" fill="url(#gChrome)" />
<path d="M579.28,464.65 L578.74,462.92 L578.16,461.21 L577.56,459.51 L576.91,457.83 L576.24,456.16 L575.53,454.51 L574.79,452.87 L574.01,451.25 L573.20,449.64 L572.35,448.05 L571.47,446.47 L570.56,444.91 L569.61,443.37 L568.62,441.83 L567.60,440.32 L566.55,438.81 L565.89,437.51 L565.78,436.05 L566.23,434.66 L567.19,433.55 L568.49,432.89 L569.95,432.78 L571.34,433.23 L572.45,434.19 L573.72,435.72 L574.96,437.27 L576.17,438.84 L577.34,440.44 L578.48,442.06 L579.58,443.70 L580.65,445.36 L581.68,447.05 L582.69,448.76 L583.65,450.49 L584.58,452.25 L585.48,454.02 L586.34,455.82 L587.17,457.64 L587.96,459.48 L588.72,461.35Z" fill="#3f4247"/>
<path d="M605.16,461.74 L605.77,459.77 L606.42,457.82 L607.11,455.88 L607.84,453.97 L608.60,452.07 L609.39,450.19 L610.23,448.33 L611.10,446.49 L612.00,444.67 L612.95,442.87 L613.92,441.09 L614.94,439.32 L615.99,437.58 L617.07,435.86 L618.19,434.15 L619.35,432.47 L620.37,431.42 L621.71,430.83 L623.17,430.81 L624.53,431.35 L625.58,432.37 L626.17,433.71 L626.19,435.17 L625.65,436.53 L624.71,438.17 L623.80,439.83 L622.93,441.49 L622.09,443.17 L621.30,444.86 L620.53,446.57 L619.80,448.28 L619.11,450.01 L618.46,451.74 L617.83,453.49 L617.25,455.26 L616.70,457.03 L616.18,458.82 L615.70,460.62 L615.25,462.43 L614.84,464.26Z" fill="#3f4247"/>
<path d="M591.58,462.53 C588.45,459.78 577.52,462.12 572.83,461.31 C568.15,460.49 566.42,459.03 563.46,457.64 C560.51,456.26 557.74,455.00 555.09,453.00 C552.45,451.01 550.09,448.67 547.59,445.68 C545.09,442.68 542.14,437.25 540.10,435.05 C538.06,432.85 536.81,432.59 535.35,432.49 C533.89,432.39 532.14,433.30 531.35,434.44 C530.56,435.58 530.25,437.13 530.60,439.33 C530.95,441.52 531.75,444.72 533.47,447.63 C535.20,450.54 538.16,454.04 540.97,456.79 C543.78,459.53 546.91,461.67 550.34,464.11 C553.78,466.56 558.15,469.61 561.59,471.44 C565.02,473.27 565.96,474.04 570.96,475.10 C575.96,476.16 588.14,479.89 591.58,477.79 C595.01,475.69 594.70,465.27 591.58,462.53Z" fill="#484b50"/>
<path d="M604.07,462.53 C606.78,459.37 615.49,460.59 620.32,459.47 C625.15,458.35 629.52,457.34 633.06,455.81 C636.60,454.28 638.89,452.45 641.56,450.32 C644.22,448.18 646.56,445.64 649.06,442.99 C651.55,440.34 654.68,436.19 656.55,434.44 C658.43,432.69 659.01,432.39 660.30,432.49 C661.59,432.59 663.55,433.91 664.30,435.05 C665.05,436.19 665.15,437.70 664.80,439.33 C664.45,440.95 664.18,441.61 662.18,444.82 C660.18,448.04 655.93,454.96 652.80,458.62 C649.68,462.28 646.87,464.52 643.43,466.80 C640.00,469.08 636.87,470.61 632.19,472.29 C627.50,473.98 620.00,475.92 615.32,476.93 C610.63,477.95 605.95,480.80 604.07,478.40 C602.20,476.00 601.37,465.68 604.07,462.53Z" fill="#484b50"/>
<rect x="587.00" y="459.70" width="19.60" height="21.60" fill="#2a2b2e" />
<ellipse cx="596.80" cy="459.70" rx="11.30" ry="1.6" fill="#4a4b4e"/>
<rect x="593.86" y="460.70" width="2.94" height="20.60" fill="#55575b" />
<g stroke="#231815" stroke-width="6" fill="none">
<path d="M489,474.5 L487,474.5 A18.5,18.5 0 0 0 487,511.5 L489,511.5"/>
<path d="M525,474.5 L523,474.5 A18.5,18.5 0 0 0 523,511.5 L525,511.5"/>
<path d="M507,493 L521,493"/>
</g>
<polygon points="464.9,575.8 455.5,578.7 462.9,583.0 452.5,584.8 458.1,589.9 447.4,590.4 450.9,596.1 440.2,595.4 441.6,601.3 431.4,599.3 430.5,605.3 421.2,602.2 418.1,608.0 410.2,603.9 405.0,609.1 398.8,604.2 391.7,608.8 387.5,603.3 378.9,606.9 376.8,601.0 367.0,603.6 367.2,597.6 356.7,598.9 359.1,593.1 348.3,593.2 352.9,587.8 342.3,586.7 348.8,581.9 338.8,579.6 347.0,575.7 338.1,572.2 347.5,569.3 340.1,565.0 350.5,563.2 344.9,558.1 355.6,557.6 352.1,551.9 362.8,552.6 361.4,546.7 371.6,548.7 372.5,542.7 381.8,545.8 384.9,540.0 392.8,544.1 398.0,538.9 404.2,543.8 411.3,539.2 415.5,544.7 424.1,541.1 426.2,547.0 436.0,544.4 435.8,550.4 446.3,549.1 443.9,554.9 454.7,554.8 450.1,560.2 460.7,561.3 454.2,566.1 464.2,568.4 456.0,572.3" fill="url(#gStar)" stroke="#9a8640" stroke-width="0.7"/>
<rect x="72.7" y="426.7" width="139.6" height="113.3" rx="11" fill="#fff" stroke="#4d4d4d" stroke-width="1.6"/>
<rect x="136.00" y="499.00" width="8.40" height="21.20" fill="url(#gChrome)" />
<polygon points="85.20,450.40 129.40,455.50 129.40,467.40 85.20,462.80" fill="#161616" />
<rect x="90.90" y="455.50" width="7.90" height="3.40" fill="#e2e2e2" />
<rect x="105.60" y="457.20" width="12.40" height="3.80" fill="#e2e2e2" />
<polygon points="146.80,451.50 208.00,455.50 208.00,467.40 146.80,464.00" fill="#161616" />
<rect x="154.70" y="455.20" width="14.70" height="3.30" fill="#e2e2e2" />
<rect x="177.40" y="457.20" width="13.60" height="3.40" fill="#e2e2e2" />
<rect x="86.30" y="438.50" width="3.40" height="12.50" fill="#1b1b1b" />
<rect x="120.30" y="439.00" width="4.50" height="17.00" fill="#1b1b1b" />
<rect x="150.20" y="441.30" width="5.10" height="10.70" fill="#1b1b1b" />
<rect x="193.20" y="442.50" width="6.80" height="13.50" fill="#1b1b1b" />
<rect x="117.00" y="467.50" width="53.00" height="6.50" fill="#161616" />
<rect x="130.40" y="462.50" width="17.60" height="5.20" fill="#dcdcdc" />
<polygon points="146.00,474.00 162.00,474.00 160.00,485.00 148.00,485.00" fill="#161616" />
<circle cx="127" cy="476.5" r="5.5" fill="#181818"/><circle cx="127" cy="476.5" r="2.6" fill="#5c5c5c"/>
<circle cx="162" cy="480" r="7.5" fill="#141414"/>
<rect x="125.00" y="483.50" width="29.00" height="5.20" fill="#d6d6d6" />
<rect x="135.60" y="473.00" width="9.60" height="27.00" fill="#161616" />
<path d="M120.7,481.7 L116.4,515" stroke="#4a4a4a" stroke-width="2.6"/>
<polygon points="114.60,492.20 133.00,490.50 127.70,504.50 115.50,502.70" fill="#161616" />
<circle cx="119.5" cy="497" r="2.2" fill="#6a6a6a"/><circle cx="126" cy="498" r="2.4" fill="#6a6a6a"/>
<polygon points="112.00,515.50 120.00,514.00 121.00,519.00 123.00,521.00 123.00,525.00 112.00,524.50" fill="#141414" />
<circle cx="147.9" cy="494.9" r="2" fill="#333"/>
<ellipse cx="81.90" cy="449.01" rx="2.9" ry="1.75" transform="rotate(87.2 81.90 449.01)" fill="#f4f4f4" stroke="#8e9298" stroke-width="0.9"/>
<ellipse cx="82.12" cy="453.03" rx="2.7" ry="0.75" transform="rotate(86.4 82.12 453.03)" fill="#9a9ea3"/>
<ellipse cx="82.40" cy="457.08" rx="2.9" ry="1.75" transform="rotate(85.7 82.40 457.08)" fill="#f4f4f4" stroke="#8e9298" stroke-width="0.9"/>
<ellipse cx="82.73" cy="461.15" rx="2.7" ry="0.75" transform="rotate(84.9 82.73 461.15)" fill="#9a9ea3"/>
<ellipse cx="83.12" cy="465.23" rx="2.9" ry="1.75" transform="rotate(84.2 83.12 465.23)" fill="#f4f4f4" stroke="#8e9298" stroke-width="0.9"/>
<ellipse cx="83.57" cy="469.32" rx="2.7" ry="0.75" transform="rotate(83.4 83.57 469.32)" fill="#9a9ea3"/>
<ellipse cx="84.08" cy="473.43" rx="2.9" ry="1.75" transform="rotate(82.5 84.08 473.43)" fill="#f4f4f4" stroke="#8e9298" stroke-width="0.9"/>
<ellipse cx="84.65" cy="477.54" rx="2.7" ry="0.75" transform="rotate(81.7 84.65 477.54)" fill="#9a9ea3"/>
<ellipse cx="85.28" cy="481.65" rx="2.9" ry="1.75" transform="rotate(80.9 85.28 481.65)" fill="#f4f4f4" stroke="#8e9298" stroke-width="0.9"/>
<ellipse cx="85.97" cy="485.76" rx="2.7" ry="0.75" transform="rotate(80.0 85.97 485.76)" fill="#9a9ea3"/>
<ellipse cx="86.73" cy="489.87" rx="2.9" ry="1.75" transform="rotate(79.1 86.73 489.87)" fill="#f4f4f4" stroke="#8e9298" stroke-width="0.9"/>
<ellipse cx="87.56" cy="493.98" rx="2.7" ry="0.75" transform="rotate(78.1 87.56 493.98)" fill="#9a9ea3"/>
<ellipse cx="88.45" cy="498.07" rx="2.9" ry="1.75" transform="rotate(77.2 88.45 498.07)" fill="#f4f4f4" stroke="#8e9298" stroke-width="0.9"/>
<ellipse cx="89.42" cy="502.15" rx="2.7" ry="0.75" transform="rotate(76.2 89.42 502.15)" fill="#9a9ea3"/>
<ellipse cx="90.45" cy="506.21" rx="2.9" ry="1.75" transform="rotate(75.2 90.45 506.21)" fill="#f4f4f4" stroke="#8e9298" stroke-width="0.9"/>
<ellipse cx="91.56" cy="510.26" rx="2.7" ry="0.75" transform="rotate(74.2 91.56 510.26)" fill="#9a9ea3"/>
<ellipse cx="92.74" cy="514.28" rx="2.9" ry="1.75" transform="rotate(73.1 92.74 514.28)" fill="#f4f4f4" stroke="#8e9298" stroke-width="0.9"/>
<ellipse cx="94.00" cy="518.27" rx="2.7" ry="0.75" transform="rotate(72.0 94.00 518.27)" fill="#9a9ea3"/>
<ellipse cx="95.33" cy="522.23" rx="2.9" ry="1.75" transform="rotate(70.8 95.33 522.23)" fill="#f4f4f4" stroke="#8e9298" stroke-width="0.9"/>
<ellipse cx="96.74" cy="526.17" rx="2.7" ry="0.75" transform="rotate(69.7 96.74 526.17)" fill="#9a9ea3"/>
<ellipse cx="98.23" cy="530.06" rx="2.9" ry="1.75" transform="rotate(68.5 98.23 530.06)" fill="#f4f4f4" stroke="#8e9298" stroke-width="0.9"/>
<ellipse cx="100.01" cy="530.22" rx="2.7" ry="0.75" transform="rotate(-60.3 100.01 530.22)" fill="#9a9ea3"/>
<ellipse cx="101.81" cy="526.61" rx="2.9" ry="1.75" transform="rotate(-67.0 101.81 526.61)" fill="#f4f4f4" stroke="#8e9298" stroke-width="0.9"/>
<ellipse cx="103.25" cy="522.86" rx="2.7" ry="0.75" transform="rotate(-70.7 103.25 522.86)" fill="#9a9ea3"/>
<ellipse cx="104.52" cy="518.97" rx="2.9" ry="1.75" transform="rotate(-73.2 104.52 518.97)" fill="#f4f4f4" stroke="#8e9298" stroke-width="0.9"/>
<ellipse cx="105.64" cy="515.03" rx="2.7" ry="0.75" transform="rotate(-75.1 105.64 515.03)" fill="#9a9ea3"/>
<ellipse cx="106.64" cy="511.09" rx="2.9" ry="1.75" transform="rotate(-76.4 106.64 511.09)" fill="#f4f4f4" stroke="#8e9298" stroke-width="0.9"/>
<ellipse cx="107.57" cy="507.04" rx="2.7" ry="0.75" transform="rotate(-77.6 107.57 507.04)" fill="#9a9ea3"/>
<ellipse cx="108.44" cy="502.94" rx="2.9" ry="1.75" transform="rotate(-78.5 108.44 502.94)" fill="#f4f4f4" stroke="#8e9298" stroke-width="0.9"/>
<ellipse cx="109.25" cy="498.83" rx="2.7" ry="0.75" transform="rotate(-79.3 109.25 498.83)" fill="#9a9ea3"/>
<ellipse cx="109.99" cy="494.74" rx="2.9" ry="1.75" transform="rotate(-80.0 109.99 494.74)" fill="#f4f4f4" stroke="#8e9298" stroke-width="0.9"/>
<ellipse cx="110.68" cy="490.73" rx="2.7" ry="0.75" transform="rotate(-80.6 110.68 490.73)" fill="#9a9ea3"/>
<ellipse cx="111.34" cy="486.68" rx="2.9" ry="1.75" transform="rotate(-81.1 111.34 486.68)" fill="#f4f4f4" stroke="#8e9298" stroke-width="0.9"/>
<ellipse cx="111.96" cy="482.63" rx="2.7" ry="0.75" transform="rotate(-81.5 111.96 482.63)" fill="#9a9ea3"/>
<ellipse cx="112.54" cy="478.58" rx="2.9" ry="1.75" transform="rotate(-81.9 112.54 478.58)" fill="#f4f4f4" stroke="#8e9298" stroke-width="0.9"/>
<ellipse cx="113.12" cy="474.42" rx="2.7" ry="0.75" transform="rotate(-82.3 113.12 474.42)" fill="#9a9ea3"/>
<ellipse cx="113.66" cy="470.29" rx="2.9" ry="1.75" transform="rotate(-82.7 113.66 470.29)" fill="#f4f4f4" stroke="#8e9298" stroke-width="0.9"/>
<ellipse cx="114.17" cy="466.20" rx="2.7" ry="0.75" transform="rotate(-83.0 114.17 466.20)" fill="#9a9ea3"/>
<ellipse cx="114.67" cy="462.01" rx="2.9" ry="1.75" transform="rotate(-83.3 114.67 462.01)" fill="#f4f4f4" stroke="#8e9298" stroke-width="0.9"/>
<ellipse cx="115.15" cy="457.89" rx="2.7" ry="0.75" transform="rotate(-83.6 115.15 457.89)" fill="#9a9ea3"/>
<ellipse cx="115.59" cy="453.84" rx="2.9" ry="1.75" transform="rotate(-83.9 115.59 453.84)" fill="#f4f4f4" stroke="#8e9298" stroke-width="0.9"/>
<ellipse cx="116.02" cy="449.72" rx="2.7" ry="0.75" transform="rotate(-84.1 116.02 449.72)" fill="#9a9ea3"/>
<ellipse cx="160.75" cy="490.97" rx="2.9" ry="1.75" transform="rotate(80.0 160.75 490.97)" fill="#f4f4f4" stroke="#8e9298" stroke-width="0.9"/>
<ellipse cx="161.51" cy="494.93" rx="2.7" ry="0.75" transform="rotate(78.3 161.51 494.93)" fill="#9a9ea3"/>
<ellipse cx="162.40" cy="498.91" rx="2.9" ry="1.75" transform="rotate(76.4 162.40 498.91)" fill="#f4f4f4" stroke="#8e9298" stroke-width="0.9"/>
<ellipse cx="163.43" cy="502.84" rx="2.7" ry="0.75" transform="rotate(74.1 163.43 502.84)" fill="#9a9ea3"/>
<ellipse cx="164.64" cy="506.72" rx="2.9" ry="1.75" transform="rotate(71.3 164.64 506.72)" fill="#f4f4f4" stroke="#8e9298" stroke-width="0.9"/>
<ellipse cx="166.06" cy="510.50" rx="2.7" ry="0.75" transform="rotate(67.6 166.06 510.50)" fill="#9a9ea3"/>
<ellipse cx="167.77" cy="514.16" rx="2.9" ry="1.75" transform="rotate(62.4 167.77 514.16)" fill="#f4f4f4" stroke="#8e9298" stroke-width="0.9"/>
<ellipse cx="169.87" cy="517.61" rx="2.7" ry="0.75" transform="rotate(54.8 169.87 517.61)" fill="#9a9ea3"/>
<ellipse cx="172.53" cy="520.62" rx="2.9" ry="1.75" transform="rotate(42.3 172.53 520.62)" fill="#f4f4f4" stroke="#8e9298" stroke-width="0.9"/>
<ellipse cx="175.68" cy="521.90" rx="2.7" ry="0.75" transform="rotate(-2.8 175.68 521.90)" fill="#9a9ea3"/>
<ellipse cx="178.68" cy="520.30" rx="2.9" ry="1.75" transform="rotate(-48.6 178.68 520.30)" fill="#f4f4f4" stroke="#8e9298" stroke-width="0.9"/>
<ellipse cx="181.16" cy="517.12" rx="2.7" ry="0.75" transform="rotate(-55.5 181.16 517.12)" fill="#9a9ea3"/>
<ellipse cx="183.33" cy="513.67" rx="2.9" ry="1.75" transform="rotate(-60.1 183.33 513.67)" fill="#f4f4f4" stroke="#8e9298" stroke-width="0.9"/>
<ellipse cx="185.27" cy="510.03" rx="2.7" ry="0.75" transform="rotate(-63.6 185.27 510.03)" fill="#9a9ea3"/>
<ellipse cx="187.00" cy="506.33" rx="2.9" ry="1.75" transform="rotate(-66.2 187.00 506.33)" fill="#f4f4f4" stroke="#8e9298" stroke-width="0.9"/>
<ellipse cx="188.56" cy="502.61" rx="2.7" ry="0.75" transform="rotate(-68.4 188.56 502.61)" fill="#9a9ea3"/>
<ellipse cx="190.01" cy="498.77" rx="2.9" ry="1.75" transform="rotate(-70.2 190.01 498.77)" fill="#f4f4f4" stroke="#8e9298" stroke-width="0.9"/>
<ellipse cx="191.36" cy="494.88" rx="2.7" ry="0.75" transform="rotate(-71.7 191.36 494.88)" fill="#9a9ea3"/>
<ellipse cx="192.60" cy="490.96" rx="2.9" ry="1.75" transform="rotate(-73.1 192.60 490.96)" fill="#f4f4f4" stroke="#8e9298" stroke-width="0.9"/>
<ellipse cx="193.76" cy="486.98" rx="2.7" ry="0.75" transform="rotate(-74.4 193.76 486.98)" fill="#9a9ea3"/>
<ellipse cx="194.83" cy="482.97" rx="2.9" ry="1.75" transform="rotate(-75.6 194.83 482.97)" fill="#f4f4f4" stroke="#8e9298" stroke-width="0.9"/>
<ellipse cx="195.82" cy="478.97" rx="2.7" ry="0.75" transform="rotate(-76.8 195.82 478.97)" fill="#9a9ea3"/>
<ellipse cx="196.71" cy="474.99" rx="2.9" ry="1.75" transform="rotate(-77.9 196.71 474.99)" fill="#f4f4f4" stroke="#8e9298" stroke-width="0.9"/>
<path d="M171,890 L202.5,876.8" stroke="#d2161f" stroke-width="1.3"/>
<polygon points="206,875.3 199.6,875.4 201.9,880.5" fill="#d2161f"/>
<path d="M484.5,887.5 L517.5,838.5" stroke="#d2161f" stroke-width="1.3"/>
<polygon points="519.5,835.4 513.6,838.9 518.2,842" fill="#d2161f"/>
</svg>
<div class="tbl" style="top:200.0px;height:99.7px">
<div class="hd" style="top:0.9px;height:13.1px"></div>
<div class="lc" style="top:14.0px;height:84.2px"></div>
<div class="ln" style="top:14.00px"></div>
<div class="ln" style="top:26.00px"></div>
<div class="ln" style="top:37.00px"></div>
<div class="ln" style="top:49.00px"></div>
<div class="ln" style="top:62.00px"></div>
<div class="ln" style="top:73.00px"></div>
<div class="ln" style="top:85.00px"></div>
<div class="ln" style="top:98.00px"></div>
<div class="vl" style="top:0.9px;height:98.8px"></div>
<div class="t b" style="left:1.5px;top:3.4px">Model</div>
<div class="t b" style="left:109.0px;top:3.4px">TEL04011</div>
<div class="t b" style="left:1.5px;top:15.5px">Capacity</div>
<div class="t" style="left:109.0px;top:15.5px">0.4 Ton</div>
<div class="t b" style="left:1.5px;top:26.5px">Min. Height (mm) ( A )</div>
<div class="t" style="left:109.0px;top:26.5px">1240</div>
<div class="t b" style="left:1.5px;top:39.0px">Max. Height (mm)( B )</div>
<div class="t" style="left:109.0px;top:39.0px">2105</div>
<div class="t b" style="left:1.5px;top:51.4px">Clamp Saddle(mm)(C)</div>
<div class="t" style="left:109.0px;top:51.4px">55</div>
<div class="t b" style="left:1.5px;top:62.7px">N.W. / G.W. (kg)</div>
<div class="t" style="left:109.0px;top:62.7px">26 / 29</div>
<div class="t b" style="left:1.5px;top:75.1px">Package Size (mm)</div>
<div class="t" style="left:109.0px;top:75.1px">1220x520x105</div>
<div class="t b" style="left:1.5px;top:87.6px">QTY / 20′CY (PCS)</div>
<div class="t" style="left:109.0px;top:87.6px">260</div>
</div>
<div class="tbl" style="top:314.0px;height:101.9px">
<div class="hd" style="top:0.9px;height:13.5px"></div>
<div class="lc" style="top:14.4px;height:86.0px"></div>
<div class="ln" style="top:14.00px"></div>
<div class="ln" style="top:26.00px"></div>
<div class="ln" style="top:37.00px"></div>
<div class="ln" style="top:50.00px"></div>
<div class="ln" style="top:63.00px"></div>
<div class="ln" style="top:75.00px"></div>
<div class="ln" style="top:87.00px"></div>
<div class="ln" style="top:100.00px"></div>
<div class="vl" style="top:0.9px;height:101.0px"></div>
<div class="t b" style="left:1.5px;top:3.8px">Model</div>
<div class="t b" style="left:109.0px;top:3.8px">TEL06011</div>
<div class="t b" style="left:1.5px;top:15.6px">Capacity</div>
<div class="t" style="left:109.0px;top:15.6px">0.6 Ton</div>
<div class="t b" style="left:1.5px;top:26.9px">Min. Height (mm) ( A )</div>
<div class="t" style="left:109.0px;top:26.9px">1135</div>
<div class="t b" style="left:1.5px;top:40.0px">Max. Height (mm)( B )</div>
<div class="t" style="left:109.0px;top:40.0px">1980</div>
<div class="t b" style="left:1.5px;top:53.0px">Clamp Saddle(mm)(C)</div>
<div class="t" style="left:109.0px;top:53.0px">75</div>
<div class="t b" style="left:1.5px;top:64.9px">N.W. / G.W. (kg)</div>
<div class="t" style="left:109.0px;top:64.9px">34 / 37</div>
<div class="t b" style="left:1.5px;top:76.7px">Package Size (mm)</div>
<div class="t" style="left:109.0px;top:76.7px">1130x330x230</div>
<div class="t b" style="left:1.5px;top:89.8px">QTY / 20′CY (PCS)</div>
<div class="t" style="left:109.0px;top:89.8px">270</div>
</div>
<div class="tbl" style="top:586.0px;height:102.5px">
<div class="hd" style="top:0.8px;height:13.4px"></div>
<div class="lc" style="top:14.2px;height:86.8px"></div>
<div class="ln" style="top:14.00px"></div>
<div class="ln" style="top:25.00px"></div>
<div class="ln" style="top:37.00px"></div>
<div class="ln" style="top:50.00px"></div>
<div class="ln" style="top:63.00px"></div>
<div class="ln" style="top:76.00px"></div>
<div class="ln" style="top:88.00px"></div>
<div class="ln" style="top:101.00px"></div>
<div class="vl" style="top:0.8px;height:101.7px"></div>
<div class="t b" style="left:1.5px;top:3.6px">Model</div>
<div class="t b" style="left:113.5px;top:3.6px">TEL08011</div>
<div class="t b" style="left:1.5px;top:14.7px">Capacity</div>
<div class="t" style="left:113.5px;top:14.7px">0.8 Ton</div>
<div class="t b" style="left:1.5px;top:26.4px">Min. Height (mm) ( A )</div>
<div class="t" style="left:113.5px;top:26.4px">850</div>
<div class="t b" style="left:1.5px;top:39.2px">Max. Height (mm)( B )</div>
<div class="t" style="left:113.5px;top:39.2px">1840</div>
<div class="t b" style="left:1.5px;top:52.4px">Clamp Saddle(mm)(C)</div>
<div class="t" style="left:113.5px;top:52.4px">75</div>
<div class="t b" style="left:1.5px;top:66.1px">N.W. / G.W. (kg)</div>
<div class="t" style="left:113.5px;top:66.1px">46 / 49</div>
<div class="t b" style="left:1.5px;top:78.0px">Package Size (mm)</div>
<div class="t" style="left:113.5px;top:78.0px">860x380x240</div>
<div class="t b" style="left:1.5px;top:90.4px">QTY / 20′CY (PCS)</div>
<div class="t" style="left:113.5px;top:90.4px">250</div>
</div>
<div class="tbl" style="top:708.0px;height:100.9px">
<div class="hd" style="top:0.3px;height:13.3px"></div>
<div class="lc" style="top:13.6px;height:85.8px"></div>
<div class="ln" style="top:13.00px"></div>
<div class="ln" style="top:26.00px"></div>
<div class="ln" style="top:36.00px"></div>
<div class="ln" style="top:50.00px"></div>
<div class="ln" style="top:62.00px"></div>
<div class="ln" style="top:75.00px"></div>
<div class="ln" style="top:87.00px"></div>
<div class="ln" style="top:99.00px"></div>
<div class="vl" style="top:0.3px;height:100.6px"></div>
<div class="t b" style="left:1.5px;top:3.0px">Model</div>
<div class="t b" style="left:113.5px;top:3.0px">TEL15011</div>
<div class="t b" style="left:1.5px;top:15.2px">Capacity</div>
<div class="t" style="left:113.5px;top:15.2px">1.5 Ton</div>
<div class="t b" style="left:1.5px;top:26.2px">Min. Height (mm) ( A )</div>
<div class="t" style="left:113.5px;top:26.2px">1130</div>
<div class="t b" style="left:1.5px;top:39.3px">Max. Height (mm)( B )</div>
<div class="t" style="left:113.5px;top:39.3px">1915</div>
<div class="t b" style="left:1.5px;top:52.0px">Clamp Saddle(mm)(C)</div>
<div class="t" style="left:113.5px;top:52.0px">75</div>
<div class="t b" style="left:1.5px;top:64.8px">N.W. / G.W. (kg)</div>
<div class="t" style="left:113.5px;top:64.8px">55.5 / 59</div>
<div class="t b" style="left:1.5px;top:76.9px">Package Size (mm)</div>
<div class="t" style="left:113.5px;top:76.9px">1160x310x240</div>
<div class="t b" style="left:1.5px;top:88.8px">QTY / 20′CY (PCS)</div>
<div class="t" style="left:113.5px;top:88.8px">224</div>
</div>
<div class="lbl red" style="left:389px;top:131px;font-size:11.7px;line-height:13.5px">Patent No.:<br>201210025173.X<br>ZL201220168382.5<br>ZL201110083123.2</div>
<svg class="abs" style="left:385.4px;top:200.8px" width="9.6" height="10" viewBox="0 0 9.6 10"><rect width="9.6" height="10" rx="1" fill="#161616"/><polygon points="1,5 5.6,0.7 8.4,0.7 4.6,5 8.4,9.3 5.6,9.3" fill="#f2f2f2"/></svg>
<div class="lbl" style="left:398px;top:200px;font-size:12px;line-height:14px;color:#1d1d1d;letter-spacing:0.4px">TEL04011</div>
<div class="lbl red" style="left:398px;top:210.8px;font-size:14.5px;line-height:17px;letter-spacing:0.7px;color:#d2161f">0.4 Ton</div>
<div class="lbl" style="left:491px;top:54.2px;font-size:12px;line-height:14px;color:#1d1d1d;letter-spacing:0.4px">TEL06011</div>
<svg class="abs" style="left:552.8px;top:56.6px" width="9.6" height="10" viewBox="0 0 9.6 10"><rect width="9.6" height="10" rx="1" fill="#161616"/><polygon points="8.6,5 4,0.7 1.2,0.7 5,5 1.2,9.3 4,9.3" fill="#f2f2f2"/></svg>
<div class="lbl red" style="left:491px;top:66.5px;font-size:14.5px;line-height:17px;letter-spacing:0.7px">0.6 Ton</div>
<svg class="abs" style="left:351.8px;top:683.2px" width="9.6" height="10" viewBox="0 0 9.6 10"><rect width="9.6" height="10" rx="1" fill="#161616"/><polygon points="1,5 5.6,0.7 8.4,0.7 4.6,5 8.4,9.3 5.6,9.3" fill="#f2f2f2"/></svg>
<div class="lbl" style="left:366px;top:681px;font-size:12px;line-height:14px;color:#1d1d1d;letter-spacing:0.4px">TEL08011</div>
<div class="lbl red" style="left:366px;top:692.5px;font-size:14.5px;line-height:17px;letter-spacing:0.7px">0.8 Ton</div>
<div class="lbl" style="left:480px;top:623px;font-size:12px;line-height:14px;color:#1d1d1d;letter-spacing:0.4px">TEL15011</div>
<svg class="abs" style="left:540.8px;top:625px" width="9.6" height="10" viewBox="0 0 9.6 10"><rect width="9.6" height="10" rx="1" fill="#161616"/><polygon points="8.6,5 4,0.7 1.2,0.7 5,5 1.2,9.3 4,9.3" fill="#f2f2f2"/></svg>
<div class="lbl red" style="left:480px;top:634.5px;font-size:14.5px;line-height:17px;letter-spacing:0.7px">1.5 Ton</div>
<div class="lbl" style="left:356.5px;top:553.2px;font-size:14.8px;line-height:18px;color:#c8141c;font-style:italic;-webkit-text-stroke:0.3px #c8141c;transform:scaleX(0.875);transform-origin:0 0">&nbsp;Telescoping<br>Cylinder Rams</div>
<div class="lbl" style="left:77.5px;top:542px;font-size:13.2px;line-height:16px;color:#333">Optional Choose For<br>Special Clamp Saddle</div>
<div class="lbl red" style="left:118px;top:891px;font-size:13px;line-height:15px">Nylon Wheel</div>
<div class="lbl red" style="left:454.4px;top:888.5px;font-size:12.3px;line-height:14px;letter-spacing:0.45px">Stronger<br>Steel Base</div>
</body></html>
